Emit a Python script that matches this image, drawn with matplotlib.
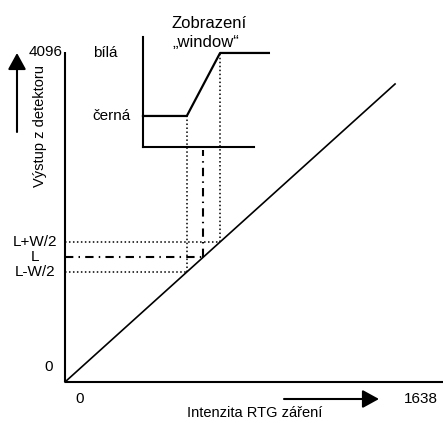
import matplotlib
matplotlib.use("Agg")
import matplotlib.pyplot as plt
import numpy as np

# detector response (intensity -> output)
line_x = [0, 1528]
line_y = [0, 3699]
x_max_label = 1638
y_max_label = 4096

# window levels on the output axis
levels = [1365, 1551, 1738]          # L-W/2, L, L+W/2
level_labels = ["L-W/2", "L", "L+W/2"]

# inset "window" display
inset_x = [361, 875]
inset_base = 2917
inset_top = 4282
black_level = 3302
white_level = 4084
inset_end = 944
dashdot_top = 2880

plt.rcParams["font.family"] = ["Liberation Sans", "DejaVu Sans"]
fig = plt.figure(figsize=(4.43, 4.23), dpi=100)
ax = fig.add_axes([0, 0, 1, 1])
sx = 378 / 1750      # px per intensity unit
sy = 330 / 4096      # px per output unit
ax.set_xlim(-65 / sx, 378 / sx)
ax.set_ylim(-41 / sy, 382 / sy)
ax.axis("off")
px = lambda p: p / sx
py = lambda p: p / sy

k = "black"
fs = 11

# main axes
ax.plot([0, 0], [0, y_max_label], color=k, lw=1.5, solid_capstyle="butt")
ax.plot([0, ax.get_xlim()[1]], [0, 0], color=k, lw=1.5, solid_capstyle="butt")
ax.plot(line_x, line_y, color=k, lw=1.2)

# window level positions on the diagonal
lx = np.interp(levels, line_y, line_x)
lo, mid, hi = levels
xlo, xmid, xhi = lx

dot = dict(color=k, lw=1.1, linestyle=(0, (1, 1.6)))
ax.plot([0, xlo], [lo, lo], **dot)
ax.plot([0, xhi], [hi, hi], **dot)
ax.plot([xlo, xlo], [lo, black_level], **dot)
ax.plot([xhi, xhi], [hi, white_level], **dot)
dd = dict(color=k, lw=1.5, linestyle=(0, (4, 2.5, 0.7, 2.5)))
ax.plot([0, xmid], [mid, mid], **dd)
ax.plot([xmid, xmid], [mid, dashdot_top], **dd)

# inset
ax.plot([inset_x[0], inset_x[0]], [inset_base, inset_top], color=k, lw=1.5)
ax.plot(inset_x, [inset_base, inset_base], color=k, lw=1.5)
ax.plot([inset_x[0], xlo, xhi, inset_end],
        [black_level, black_level, white_level, white_level], color=k, lw=1.6)

# labels
off = dict(textcoords="offset pixels", fontsize=fs)
ax.annotate(str(y_max_label), (0, y_max_label), xytext=(-2, 0), ha="right", va="center", **off)
ax.annotate("0", (0, 0), xytext=(-16, 15), ha="center", va="center", **off)
ax.annotate("0", (0, 0), xytext=(15, -17), ha="center", va="center", **off)
ax.annotate(str(x_max_label), (0, 0), xytext=(356, -17), ha="center", va="center", **off)
for lev, lab in zip(levels, level_labels):
    ax.annotate(lab, (0, lev), xytext=(-30, 0), ha="center", va="center", **off)
ax.annotate("bílá", (0, white_level), xytext=(28, 0), ha="left", va="center", **off)
ax.annotate("černá", (0, black_level), xytext=(27, 0), ha="left", va="center", **off)
off12 = dict(off, fontsize=12)
ax.annotate("Zobrazení", (0, 0), xytext=(107, 359), ha="left", va="center", **off12)
ax.annotate("\u201ewindow\u201c", (0, 0), xytext=(107, 340), ha="left", va="center", **off12)
ax.annotate("Intenzita RTG záření", (0, 0), xytext=(190, -31), ha="center", va="center",
            **dict(off, fontsize=10.5))
ax.annotate("Výstup z detektoru", (0, 0), xytext=(-25, 256), ha="center", va="center",
            rotation=90, **dict(off, fontsize=10.5))

# arrows
arr = dict(arrowstyle="-|>,head_length=10,head_width=5.5", color=k, lw=1.5,
           mutation_scale=1, shrinkA=0, shrinkB=0)
ax.annotate("", xy=(px(314), py(-17)), xytext=(px(219), py(-17)), arrowprops=arr)
ax.annotate("", xy=(px(-48), py(329)), xytext=(px(-48), py(250)), arrowprops=arr)

fig.savefig("out.png", dpi=100)
